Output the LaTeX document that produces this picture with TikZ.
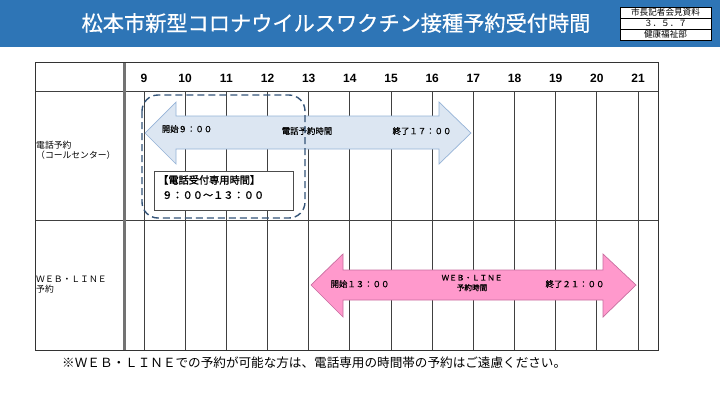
\documentclass[tikz,border=0pt]{standalone}
\usepackage{fontspec}
\setmainfont{Liberation Sans}
\newfontfamily\jp{Noto Sans CJK JP}
\newfontfamily\jpm{Noto Sans CJK JP}[FakeBold=0.6]
\newfontfamily\jpb{Noto Sans CJK JP}[FakeBold=1.5]
\newfontfamily\num{Liberation Sans}
\definecolor{titleblue}{RGB}{46,117,182}
\definecolor{arrblue}{RGB}{220,230,242}
\definecolor{arrblueline}{RGB}{149,179,215}
\definecolor{arrpink}{RGB}{255,153,204}
\definecolor{arrpinkline}{RGB}{200,110,160}
\definecolor{dashblue}{RGB}{52,84,120}
\begin{document}
\begin{tikzpicture}[x=1pt,y=-1pt,
  grid/.style={draw=black!75,line width=0.8pt},
  hourlbl/.style={font=\num\bfseries\fontsize{12}{12}\selectfont,anchor=center},
  arrtxt/.style={font=\jpm\fontsize{8.4}{9}\selectfont,anchor=center,inner sep=0pt},
  rowlbl/.style={font=\jp\fontsize{8.8}{10.2}\selectfont,anchor=west,align=left,inner sep=0pt},
  bluearrow/.style={draw=arrblueline,fill=arrblue,line width=0.7pt,line join=miter},
  pinkarrow/.style={draw=arrpinkline,fill=arrpink,line width=0.7pt,line join=miter},
  infocell/.style={draw=black,fill=white,line width=0.5pt,minimum width=91pt,minimum height=11pt,inner sep=0pt,font=\jp\fontsize{8.6}{9}\selectfont}]
\useasboundingbox (0,0) rectangle (720,405);
\fill[white] (0,0) rectangle (720,405);
% title band
\fill[titleblue] (0,0) rectangle (720,47);
\node[font=\jpm\fontsize{21.2}{22}\selectfont,text=white,inner sep=0pt] (title) at (336,23) {松本市新型コロナウイルスワクチン接種予約受付時間};
\node[infocell] (info1) at (665.5,12.5) {市長記者会見資料};
\node[infocell] (info2) at (665.5,23.5) {３．５．７};
\node[infocell] (info3) at (665.5,34.5) {健康福祉部};
% table
\coordinate (tl) at (35,62);
\coordinate (br) at (658,350);
\draw[grid] (35,91) -- (658,91);
\draw[grid] (35,220) -- (658,220);
\foreach \h [count=\i from 0] in {9,...,21}{
  \pgfmathsetmacro{\xx}{144+\i*41.17}
  \draw[grid] (\xx,91) -- (\xx,350);
  \node[hourlbl] (h\h) at (\xx,78) {\h};
}
\draw[black!55,line width=2.6pt] (124.5,62) -- (124.5,350);
\draw[black!80,line width=1pt] (tl) rectangle (br);
% row labels
\node[rowlbl] (row1) at (36,150) {電話予約\\（コールセンター）};
\node[rowlbl] (row2) at (36,285) {ＷＥＢ・ＬＩＮＥ\\予約};
% phone arrow
\draw[bluearrow] (145,133) -- (176,102) -- (176,116) -- (439,116) -- (439,102) -- (471,133)
  -- (439,164) -- (439,149) -- (176,149) -- (176,164) -- cycle;
\node[arrtxt] (p1) at (187,129) {開始９：００};
\node[arrtxt] (p2) at (307,131) {電話予約時間};
\node[arrtxt] (p3) at (422,131) {終了１７：００};
% dedicated box
\node[draw=black!70,fill=white,line width=0.6pt,minimum width=139pt,minimum height=39pt,
  anchor=north west,inner sep=0pt] (ded) at (154,171) {};
\node[font=\jpb\fontsize{10.2}{15}\selectfont,anchor=north west,align=left,inner sep=0pt] (dedt) at (158,175)
  {【電話受付専用時間】\\\hspace*{4pt}９：００～１３：００};
\draw[dashblue,line width=1.4pt,dash pattern=on 7pt off 4pt,rounded corners=16pt] (142,95) rectangle (305,218);
% web arrow
\draw[pinkarrow] (311,285) -- (343,254) -- (343,270) -- (603,270) -- (603,254) -- (636,285)
  -- (603,317) -- (603,300) -- (343,300) -- (343,317) -- cycle;
\node[arrtxt] (w1) at (360,284) {開始１３：００};
\node[arrtxt,font=\jpm\fontsize{7.6}{10}\selectfont,align=center] (w2) at (472,283) {ＷＥＢ・ＬＩＮＥ\\予約時間};
\node[arrtxt] (w3) at (575,284) {終了２１：００};
% footnote
\node[font=\jp\fontsize{12.6}{13}\selectfont,anchor=west,inner sep=0pt] (foot) at (62,363)
  {※ＷＥＢ・ＬＩＮＥでの予約が可能な方は、電話専用の時間帯の予約はご遠慮ください。};
\end{tikzpicture}
\end{document}
